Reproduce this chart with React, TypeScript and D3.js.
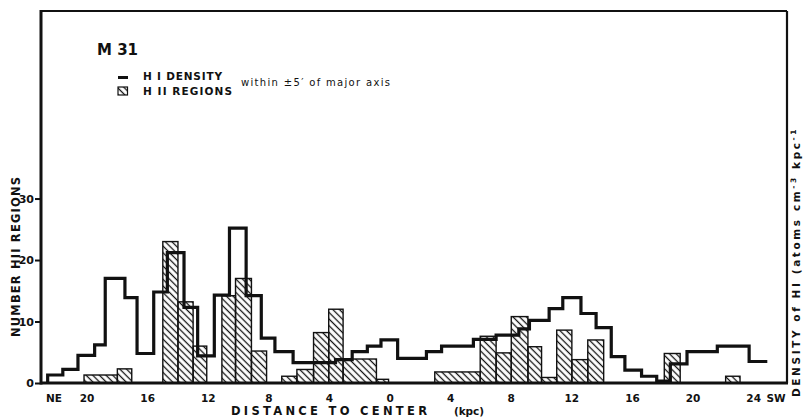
import React, { useEffect, useRef } from "react";
import * as d3 from "d3";

// HI density step line: bin edges (kpc, NE negative) and level in each bin
const hiEdges = [
  -22.6, -21.6, -20.6, -19.5, -18.8, -17.5, -16.7, -15.6, -14.7, -13.6, -12.7,
  -11.6, -10.6, -9.5, -8.5, -7.6, -6.4, -3.6, -2.5, -1.5, -0.6, 0.5, 2.4, 3.4,
  5.5, 7.0, 8.5, 9.2, 10.5, 11.4, 12.6, 13.6, 14.6, 15.5, 16.6, 17.6, 18.5,
  19.6, 21.6, 23.7, 24.9,
];
const hiDensity = [
  1.3, 2.2, 4.5, 6.2, 17, 13.9, 4.8, 14.8, 21.2, 12.3, 4.4, 14.3, 25.2, 14.2,
  7.3, 5.1, 3.3, 3.8, 5.1, 6, 7, 4, 5.1, 6, 7.1, 7.8, 8.8, 10.2, 12.1, 13.9,
  11.3, 9, 4.3, 2.1, 1.1, 0.3, 3.1, 5.1, 6, 3.5,
];

// HII regions histogram
const hiiStart = [
  -20.2, -18.0, -15.0, -14.0, -13.0, -11.1, -10.2, -9.15, -7.15, -6.15, -5.05,
  -4.05, -3.1, -0.9, 2.95, 5.95, 7.0, 8.0, 9.1, 10.0, 11.0, 12.0, 13.05, 18.1,
  22.15,
];
const hiiEnd = [
  -18.0, -17.05, -14.0, -13.0, -12.1, -10.2, -9.15, -8.15, -6.15, -5.05, -4.05,
  -3.1, -0.9, -0.1, 5.95, 7.0, 8.0, 9.1, 10.0, 11.0, 12.0, 13.05, 14.1, 19.15,
  23.1,
];
const hiiCount = [
  1.3, 2.3, 23, 13.2, 6, 14.2, 17, 5.2, 1.1, 2.2, 8.2, 12, 3.9, 0.6, 1.8, 7.6,
  4.9, 10.8, 5.9, 0.9, 8.6, 3.8, 7, 4.8, 1.1,
];

const yTicks = [0, 10, 20, 30];
const xTicks = [-20, -16, -12, -8, -4, 0, 4, 8, 12, 16, 20, 24];

const App = () => {
  const svgRef = useRef<SVGSVGElement>(null);

  useEffect(() => {
    const svg = d3.select(svgRef.current);
    svg.selectAll("*").remove();

    const font = "'DejaVu Sans', Verdana, sans-serif";
    const left = 41,
      right = 787,
      top = 11,
      bottom = 383;

    const x = d3.scaleLinear().domain([-23.04, 26.2]).range([left, right]);
    const y = d3.scaleLinear().domain([0, 60.5]).range([bottom, top]);

    // hatch pattern "\\\"
    const defs = svg.append("defs");
    defs
      .append("pattern")
      .attr("id", "hatch")
      .attr("patternUnits", "userSpaceOnUse")
      .attr("width", 4.7)
      .attr("height", 4.7)
      .attr("patternTransform", "rotate(-45)")
      .append("line")
      .attr("x1", 2.35)
      .attr("x2", 2.35)
      .attr("y1", 0)
      .attr("y2", 4.7)
      .attr("stroke", "#111")
      .attr("stroke-width", 1.3);

    // HII bars
    const bars = hiiCount.map((c, i) => ({ s: hiiStart[i], e: hiiEnd[i], c }));
    svg
      .append("g")
      .selectAll("rect")
      .data(bars)
      .join("rect")
      .attr("x", (d) => x(d.s))
      .attr("width", (d) => x(d.e) - x(d.s))
      .attr("y", (d) => y(d.c))
      .attr("height", (d) => y(0) - y(d.c))
      .attr("fill", "url(#hatch)")
      .attr("stroke", "#111")
      .attr("stroke-width", 1.4);

    // HI density step line
    const pts: [number, number][] = [[hiEdges[0], 0]];
    hiDensity.forEach((v, i) => pts.push([hiEdges[i], v]));
    pts.push([hiEdges[hiEdges.length - 1], hiDensity[hiDensity.length - 1]]);
    const line = d3
      .line<[number, number]>()
      .x((d) => x(d[0]))
      .y((d) => y(d[1]))
      .curve(d3.curveStepAfter);
    svg
      .append("path")
      .attr("d", line(pts))
      .attr("fill", "none")
      .attr("stroke", "#111")
      .attr("stroke-width", 3.2)
      .attr("stroke-linejoin", "miter");

    // frame
    const frame = svg.append("g").attr("stroke", "#111").attr("fill", "none");
    frame.append("line").attr("x1", left).attr("x2", right).attr("y1", top).attr("y2", top).attr("stroke-width", 2);
    frame.append("line").attr("x1", right).attr("x2", right).attr("y1", top).attr("y2", bottom).attr("stroke-width", 2.2);
    frame.append("line").attr("x1", left).attr("x2", left).attr("y1", top - 1).attr("y2", bottom + 1.5).attr("stroke-width", 3);
    frame.append("line").attr("x1", left).attr("x2", right + 1).attr("y1", bottom).attr("y2", bottom).attr("stroke-width", 3);

    // left axis
    const yAxis = svg
      .append("g")
      .attr("transform", `translate(${left},0)`)
      .call(d3.axisLeft(y).tickValues(yTicks).tickSize(6).tickPadding(1));
    yAxis.select(".domain").remove();
    yAxis.selectAll("line").attr("stroke", "#111").attr("stroke-width", 2);
    yAxis
      .selectAll("text")
      .attr("fill", "#111")
      .style("font-family", font)
      .style("font-weight", "bold")
      .style("font-size", "11px");

    // bottom tick labels
    svg
      .append("g")
      .selectAll("text")
      .data(xTicks)
      .join("text")
      .attr("x", (d) => x(d))
      .attr("y", 402)
      .attr("text-anchor", "middle")
      .attr("fill", "#111")
      .style("font-family", font)
      .style("font-weight", "bold")
      .style("font-size", "10.5px")
      .text((d) => Math.abs(d));

    const label = (
      tx: number,
      ty: number,
      txt: string,
      size: number,
      len?: number,
      weight = "bold",
      anchor = "start"
    ) => {
      const t = svg
        .append("text")
        .attr("x", tx)
        .attr("y", ty)
        .attr("text-anchor", anchor)
        .attr("fill", "#111")
        .style("font-family", font)
        .style("font-weight", weight)
        .style("font-size", `${size}px`)
        .text(txt);
      if (len) t.attr("textLength", len).attr("lengthAdjust", "spacing");
      return t;
    };

    label(54, 402, "NE", 10.5, undefined, "bold", "middle");
    label(776, 402, "SW", 10.5, undefined, "bold", "middle");
    label(231, 415, "DISTANCE TO CENTER", 11.5, 196);
    label(454, 415, "(kpc)", 10.5, 30);

    // title + legend
    label(97, 55, "M 31", 15, 41);
    svg
      .append("line")
      .attr("x1", 118)
      .attr("x2", 128)
      .attr("y1", 77.5)
      .attr("y2", 77.5)
      .attr("stroke", "#111")
      .attr("stroke-width", 3);
    label(143, 80, "H I  DENSITY", 10.5, 79);
    svg
      .append("rect")
      .attr("x", 118)
      .attr("y", 87)
      .attr("width", 9.5)
      .attr("height", 8)
      .attr("fill", "url(#hatch)")
      .attr("stroke", "#111")
      .attr("stroke-width", 1.2);
    label(143, 95, "H II  REGIONS", 10.5, 89);
    label(241, 86, "within \u00b15\u2032 of major axis", 10, 149, "normal");

    // y label (left)
    svg
      .append("text")
      .attr("transform", "translate(20,337) rotate(-90)")
      .attr("fill", "#111")
      .style("font-family", font)
      .style("font-weight", "bold")
      .style("font-size", "11.5px")
      .attr("textLength", 160)
      .attr("lengthAdjust", "spacing")
      .text("NUMBER   HII   REGIONS");

    // right label
    const rl = svg
      .append("text")
      .attr("transform", "translate(800,397) rotate(-90)")
      .attr("fill", "#111")
      .style("font-family", font)
      .style("font-weight", "bold")
      .style("font-size", "10.5px")
      .style("letter-spacing", "2.6px");
    rl.append("tspan").text("DENSITY of HI  (atoms cm");
    rl.append("tspan").attr("dy", -4).style("font-size", "7.5px").text("-3");
    rl.append("tspan").attr("dy", 4).text(" kpc");
    rl.append("tspan").attr("dy", -4).style("font-size", "7.5px").text("-1");
  }, []);

  return (
    <svg
      ref={svgRef}
      width={803}
      height={417}
      viewBox="0 0 803 417"
      style={{ position: "fixed", left: 0, top: 0, background: "#fff" }}
    />
  );
};

export default App;
